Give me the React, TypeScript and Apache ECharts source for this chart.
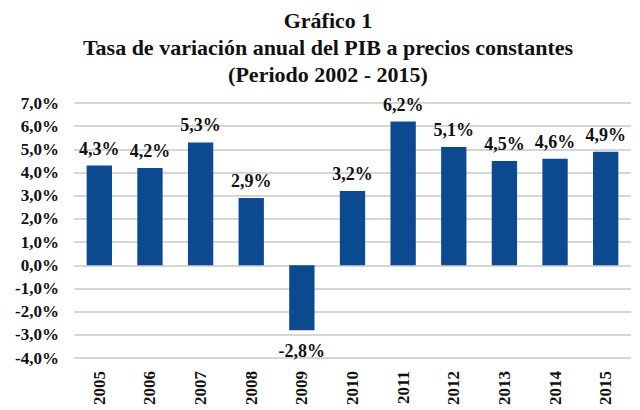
import React, { useEffect, useRef } from "react";
import * as echarts from "echarts";

const titleLines = ["Gráfico 1", "Tasa de variación anual del PIB a precios constantes", "(Periodo 2002 - 2015)"];
const years = ["2005", "2006", "2007", "2008", "2009", "2010", "2011", "2012", "2013", "2014", "2015"];
const growth = [4.3, 4.2, 5.3, 2.9, -2.8, 3.2, 6.2, 5.1, 4.5, 4.6, 4.9];
const yMin = -4;
const yMax = 7;
const yStep = 1;

const FONT = "Liberation Serif";
const fmt = (v: number) => v.toFixed(1).replace(".", ",") + "%";

export default function App() {
  const ref = useRef<HTMLDivElement>(null);
  useEffect(() => {
    document.body.style.margin = "0";
    const chart = echarts.init(ref.current!, null, { renderer: "svg" });
    chart.setOption({
      animation: false,
      backgroundColor: "#ffffff",
      title: {
        text: titleLines.join("\n"),
        left: 323,
        textAlign: "center",
        top: 2,
        textStyle: { fontFamily: FONT, fontWeight: "bold", fontSize: 22, lineHeight: 27, color: "#111" },
      },
      grid: { left: 74, right: 9, top: 103, bottom: 52 },
      xAxis: {
        type: "category",
        data: years,
        axisLine: { show: false },
        axisTick: { show: false },
        axisLabel: {
          rotate: 90,
          margin: 13,
          fontFamily: FONT,
          fontWeight: "bold",
          fontSize: 17,
          color: "#111",
        },
      },
      yAxis: {
        type: "value",
        min: yMin,
        max: yMax,
        interval: yStep,
        axisLine: { show: false },
        axisTick: { show: false },
        splitLine: { lineStyle: { color: "#c8c8c8", width: 1.5 } },
        axisLabel: {
          formatter: (v: number) => fmt(v),
          fontFamily: FONT,
          fontWeight: "bold",
          fontSize: 17,
          color: "#111",
          margin: 15,
        },
      },
      series: [
        {
          type: "bar",
          data: growth.map((v) => ({
            value: v,
            label: { position: v < 0 ? "bottom" : "top", distance: v < 0 ? 12 : 8 },
          })),
          barWidth: "50%",
          itemStyle: { color: "#0B4A91" },
          label: {
            show: true,
            formatter: (p: any) => fmt(p.value),
            distance: 8,
            fontFamily: FONT,
            fontWeight: "bold",
            fontSize: 18,
            color: "#111",
          },
        },
      ],
    });
    return () => chart.dispose();
  }, []);
  return <div ref={ref} style={{ width: 640, height: 410 }} />;
}
